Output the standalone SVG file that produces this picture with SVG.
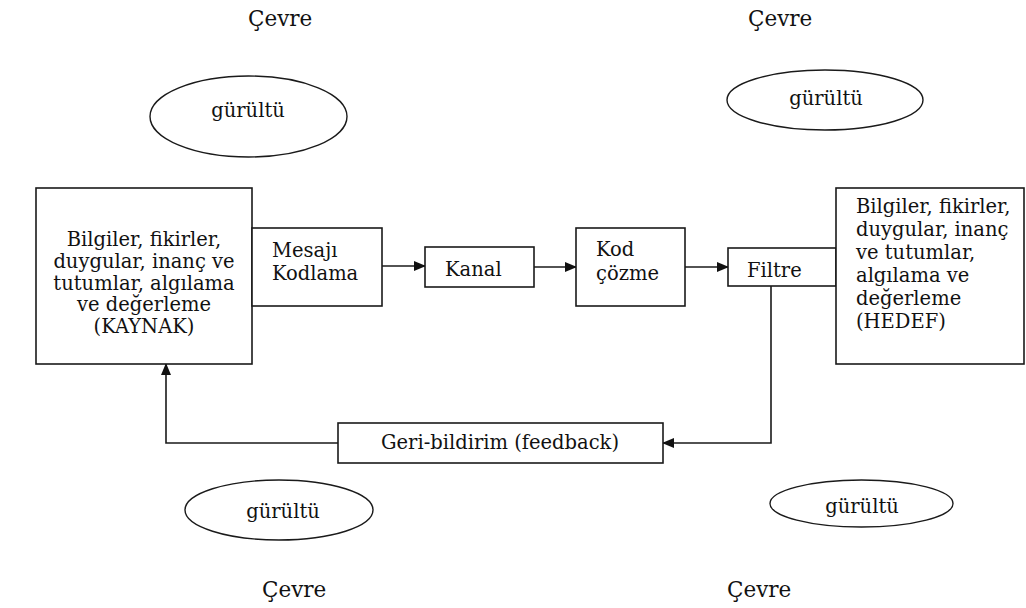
<svg xmlns="http://www.w3.org/2000/svg" width="1026" height="608" viewBox="0 0 1026 608">
<style>
text{font-family:"DejaVu Serif","Liberation Serif",serif;font-size:19.5px;fill:#111}
.box{fill:#fff;stroke:#1a1a1a;stroke-width:1.6}
.ell{fill:none;stroke:#1a1a1a;stroke-width:1.4}
.ln{fill:none;stroke:#1a1a1a;stroke-width:1.6}
.c{text-anchor:middle}
.cv{font-size:21.5px}
</style>
<defs>
<marker id="ah" markerWidth="12" markerHeight="10" refX="11" refY="5" orient="auto" markerUnits="userSpaceOnUse">
<path d="M0,0 L12,5 L0,10 Z" fill="#111"/>
</marker>
</defs>
<rect width="1026" height="608" fill="#fff"/>
<g id="labels">
<text class="cv" x="248" y="26">Çevre</text>
<text class="cv" x="748" y="26">Çevre</text>
<text class="cv" x="262" y="597">Çevre</text>
<text class="cv" x="727" y="597">Çevre</text>
</g>
<g id="noise1"><ellipse class="ell" cx="248.5" cy="116.5" rx="98.5" ry="40.5"/><text class="c" x="248" y="117">gürültü</text></g>
<g id="noise2"><ellipse class="ell" cx="825" cy="100" rx="98" ry="30"/><text class="c" x="826" y="105">gürültü</text></g>
<g id="noise3"><ellipse class="ell" cx="279" cy="510" rx="94" ry="30"/><text class="c" x="283" y="518">gürültü</text></g>
<g id="noise4"><ellipse class="ell" cx="861.5" cy="503.5" rx="91.5" ry="23.5"/><text class="c" x="862" y="513">gürültü</text></g>
<g id="connectors">
<line class="ln" x1="382" y1="266" x2="425" y2="266" marker-end="url(#ah)"/>
<line class="ln" x1="534" y1="267" x2="576" y2="267" marker-end="url(#ah)"/>
<line class="ln" x1="685" y1="267" x2="728" y2="267" marker-end="url(#ah)"/>
<polyline class="ln" points="771,286 771,443 663,443" marker-end="url(#ah)"/>
<polyline class="ln" points="338,443 166,443 166,364" marker-end="url(#ah)"/>
</g>
<g id="kaynak">
<rect class="box" x="36" y="188" width="216" height="176"/>
<text class="c" x="144" y="246">Bilgiler, fikirler,</text>
<text class="c" x="144" y="268">duygular, inanç ve</text>
<text class="c" x="144" y="289.5">tutumlar, algılama</text>
<text class="c" x="144" y="311">ve değerleme</text>
<text class="c" x="144" y="332.5">(KAYNAK)</text>
</g>
<g id="mesaj">
<rect class="box" x="252" y="228" width="130" height="78"/>
<text x="272" y="257">Mesajı</text>
<text x="272" y="280">Kodlama</text>
</g>
<g id="kanal">
<rect class="box" x="425" y="247" width="109" height="40"/>
<text x="445" y="276">Kanal</text>
</g>
<g id="kodcozme">
<rect class="box" x="576" y="228" width="109" height="78"/>
<text x="596" y="256">Kod</text>
<text x="596" y="280">çözme</text>
</g>
<g id="filtre">
<rect class="box" x="728" y="248" width="108" height="38"/>
<text x="747" y="277">Filtre</text>
</g>
<g id="hedef">
<rect class="box" x="836" y="188" width="188" height="176"/>
<text x="856" y="213">Bilgiler, fikirler,</text>
<text x="856" y="236">duygular, inanç</text>
<text x="856" y="259">ve tutumlar,</text>
<text x="856" y="282">algılama ve</text>
<text x="856" y="305">değerleme</text>
<text x="856" y="328">(HEDEF)</text>
</g>
<g id="geribildirim">
<rect class="box" x="338" y="423" width="325" height="40"/>
<text class="c" x="500" y="449">Geri-bildirim (feedback)</text>
</g>
</svg>
